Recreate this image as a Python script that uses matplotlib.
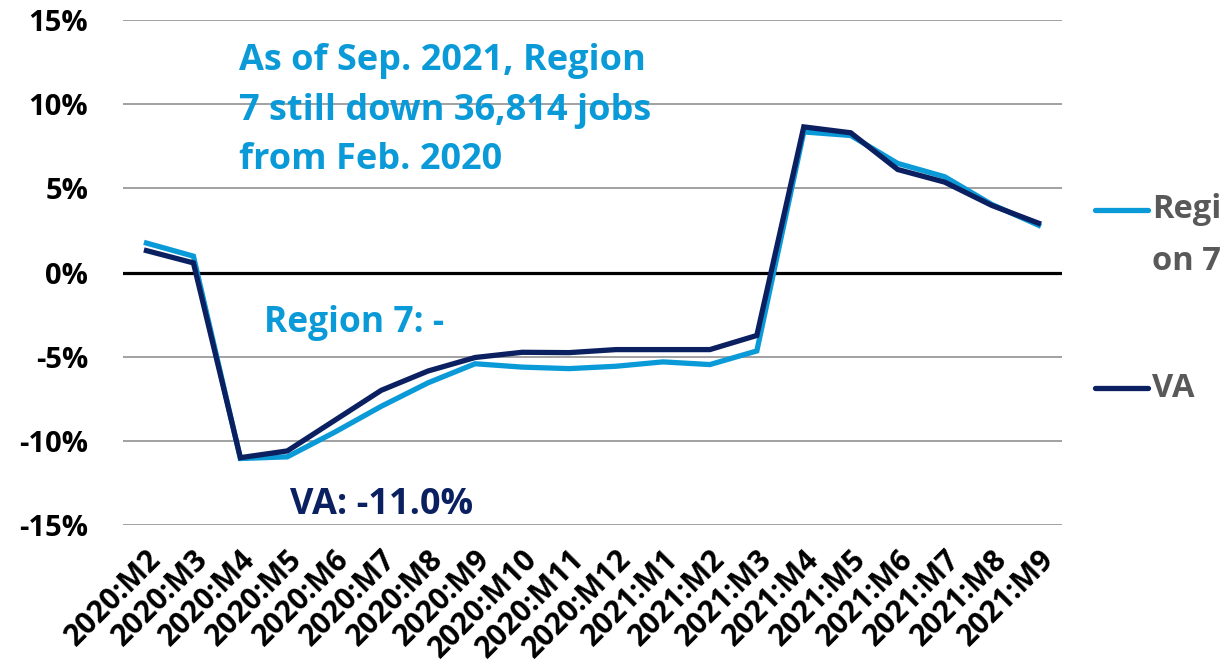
import numpy as np
import matplotlib.pyplot as plt

# monthly job change vs. Feb. 2020, percent
months = ['2020:M2', '2020:M3', '2020:M4', '2020:M5', '2020:M6', '2020:M7',
          '2020:M8', '2020:M9', '2020:M10', '2020:M11', '2020:M12', '2021:M1',
          '2021:M2', '2021:M3', '2021:M4', '2021:M5', '2021:M6', '2021:M7',
          '2021:M8', '2021:M9']
region7 = [1.75, 0.97, -11.05, -10.95, -9.5, -7.95, -6.55, -5.42, -5.62, -5.71,
           -5.57, -5.31, -5.47, -4.66, 8.35, 8.14, 6.48, 5.69, 4.05, 2.81]
va = [1.3, 0.57, -11.0, -10.6, -8.8, -7.0, -5.85, -5.05, -4.74, -4.76,
      -4.58, -4.58, -4.58, -3.74, 8.65, 8.3, 6.12, 5.37, 3.99, 2.93]

yticks = [-15, -10, -5, 0, 5, 10, 15]

light_blue = '#0a9ad8'
navy = '#0b2060'
grey_text = '#595959'

plt.rcParams['font.family'] = ['Open Sans', 'DejaVu Sans']
plt.rcParams['font.weight'] = 'bold'

fig = plt.figure(figsize=(12.32, 6.65), dpi=100)
ax = fig.add_axes([123 / 1232, 140 / 665, 939 / 1232, 505 / 665])

x = np.arange(len(months))
ax.plot(x, region7, color=light_blue, lw=3.8, solid_joinstyle='miter')
ax.plot(x, va, color=navy, lw=3.8, solid_joinstyle='miter')

ax.set_xlim(-0.5, len(months) - 0.5)
ax.set_ylim(-15, 15)

# gridlines, with a heavier zero line
for t in yticks:
    if t == 0:
        ax.axhline(0, color='black', lw=2.3, zorder=1)
    else:
        ax.axhline(t, color='#9a9a9a', lw=1.3, zorder=0)

for s in ax.spines.values():
    s.set_visible(False)

ax.set_yticks(yticks)
ax.set_yticklabels([f'{t}%' for t in yticks], fontsize=21, fontweight='bold')
ax.set_xticks(x)
ax.set_xticklabels(months, rotation=45, ha='right', va='top',
                   rotation_mode='anchor', fontsize=21.5, fontweight='bold')
ax.tick_params(axis='both', length=0)
ax.tick_params(axis='y', pad=25)
ax.tick_params(axis='x', pad=14)

ax.text(1.98, 0.82, 'As of Sep. 2021, Region\n7 still down 36,814 jobs\nfrom Feb. 2020',
        transform=ax.get_xaxis_transform(), color=light_blue, fontsize=26,
        fontweight='bold', va='center', ha='left', linespacing=1.5)
ax.text(2.5, -3.0, 'Region 7: -', color=light_blue, fontsize=25.5,
        fontweight='bold', va='center', ha='left')
ax.text(3.05, -13.8, f'VA: {va[2]:.1f}%', color=navy, fontsize=26,
        fontweight='bold', va='center', ha='left')

# legend keys to the right of the plot
for key_y, label, color in [(0.624, 'Regi\non 7', light_blue), (0.271, 'VA', navy)]:
    ax.plot([1.035, 1.092], [key_y, key_y], color=color, lw=3.8,
            solid_capstyle='round', transform=ax.transAxes, clip_on=False)
    lines = label.split('\n')
    for i, line in enumerate(lines):
        ax.text(1.096, key_y - 0.103 * i, line, color=grey_text, fontsize=23.5,
                fontweight='bold', va='center', ha='left', transform=ax.transAxes)

fig.savefig('out.png', dpi=100)
